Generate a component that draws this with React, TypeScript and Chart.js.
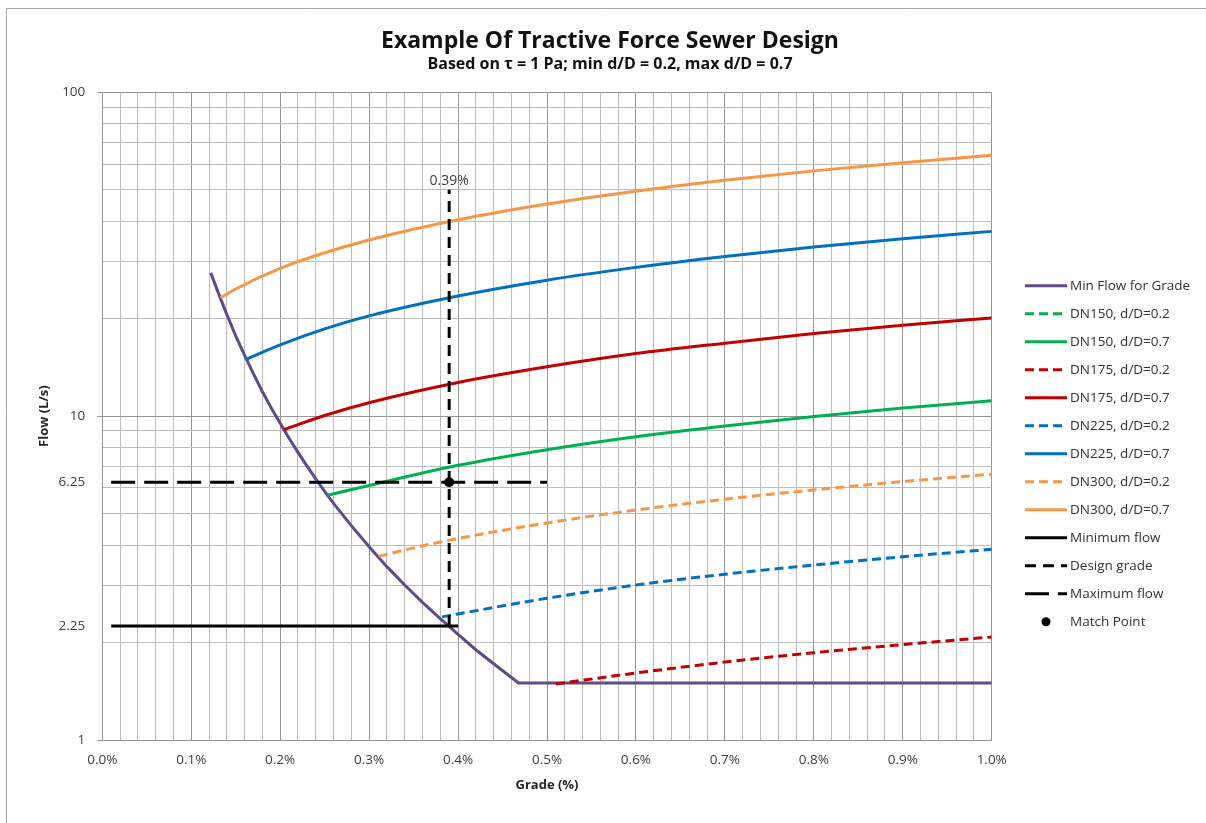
import React, { useEffect, useRef } from 'react';
import { Chart, registerables } from 'chart.js';

Chart.register(...registerables);

// ---------- text ----------
const CHART_TITLE = 'Example Of Tractive Force Sewer Design';
const CHART_SUBTITLE = 'Based on τ = 1 Pa; min d/D = 0.2, max d/D = 0.7';
const X_AXIS_TITLE = 'Grade (%)';
const Y_AXIS_TITLE = 'Flow (L/s)';

// ---------- axes ----------
const X_TICK_LABELS = ['0.0%', '0.1%', '0.2%', '0.3%', '0.4%', '0.5%', '0.6%', '0.7%', '0.8%', '0.9%', '1.0%'];
const X_MIN = 0;
const X_MAX = 1.0;
const X_MINOR_PER_MAJOR = 5; // gridline every 0.02 %
const Y_GRID_VALUES = [1, 2, 3, 4, 5, 6, 7, 8, 9, 10, 20, 30, 40, 50, 60, 70, 80, 90, 100];
const Y_MAJOR_VALUES = [1, 10, 100];
const Y_LABELED_VALUES = [1, 2.25, 6.25, 10, 100];
const Y_TICK_LABELS = ['1', '2.25', '6.25', '10', '100'];

// ---------- series (grade %, flow L/s) ----------
const MIN_FLOW_GRADE = [0.122, 0.13, 0.14, 0.15, 0.16, 0.17, 0.18, 0.19, 0.2, 0.21, 0.22, 0.23, 0.24, 0.25, 0.26, 0.28, 0.3, 0.32, 0.34, 0.36, 0.38, 0.4, 0.42, 0.44, 0.46, 0.468, 1.0];
const MIN_FLOW_Q = [27.7, 24.2, 20.6, 17.7, 15.4, 13.5, 11.9, 10.6, 9.5, 8.55, 7.73, 7.02, 6.4, 5.86, 5.38, 4.59, 3.95, 3.43, 3.01, 2.66, 2.37, 2.12, 1.9, 1.72, 1.56, 1.5, 1.5];

const DN150_02_GRADE: number[] = [];
const DN150_02_Q: number[] = [];

const DN150_07_GRADE = [0.253, 0.3, 0.4, 0.5, 0.6, 0.7, 0.8, 0.9, 1.0];
const DN150_07_Q = [5.7, 6.11, 7.05, 7.88, 8.64, 9.33, 9.97, 10.6, 11.15];

const DN175_02_GRADE = [0.51, 0.6, 0.7, 0.8, 0.9, 1.0];
const DN175_02_Q = [1.49, 1.61, 1.74, 1.86, 1.97, 2.08];

const DN175_07_GRADE = [0.204, 0.25, 0.3, 0.4, 0.5, 0.6, 0.7, 0.8, 0.9, 1.0];
const DN175_07_Q = [9.08, 10.05, 11.0, 12.7, 14.2, 15.6, 16.8, 18.0, 19.1, 20.1];

const DN225_02_GRADE = [0.382, 0.4, 0.5, 0.6, 0.7, 0.8, 0.9, 1.0];
const DN225_02_Q = [2.4, 2.45, 2.74, 3.01, 3.25, 3.47, 3.68, 3.88];

const DN225_07_GRADE = [0.162, 0.2, 0.25, 0.3, 0.4, 0.5, 0.6, 0.7, 0.8, 0.9, 1.0];
const DN225_07_Q = [15.0, 16.6, 18.6, 20.4, 23.5, 26.3, 28.8, 31.1, 33.3, 35.3, 37.2];

const DN300_02_GRADE = [0.311, 0.35, 0.4, 0.5, 0.6, 0.7, 0.8, 0.9, 1.0];
const DN300_02_Q = [3.69, 3.92, 4.19, 4.68, 5.13, 5.54, 5.92, 6.28, 6.62];

const DN300_07_GRADE = [0.133, 0.15, 0.2, 0.25, 0.3, 0.4, 0.5, 0.6, 0.7, 0.8, 0.9, 1.0];
const DN300_07_Q = [23.2, 24.7, 28.6, 31.95, 35.0, 40.4, 45.2, 49.5, 53.5, 57.2, 60.6, 63.9];

const MINIMUM_FLOW_GRADE = [0.01, 0.4];
const MINIMUM_FLOW_Q = [2.25, 2.25];

const DESIGN_GRADE_GRADE = [0.39, 0.39];
const DESIGN_GRADE_Q = [2.25, 50];
const DESIGN_GRADE_LABEL = '0.39%';

const MAXIMUM_FLOW_GRADE = [0.01, 0.5];
const MAXIMUM_FLOW_Q = [6.25, 6.25];

const MATCH_POINT_GRADE = [0.39];
const MATCH_POINT_Q = [6.25];

// ---------- styling ----------
const FONT = "'Open Sans', 'Noto Sans', sans-serif";
const C_PURPLE = '#5F4B8B';
const C_GREEN = '#00B050';
const C_RED = '#C00000';
const C_BLUE = '#0070C0';
const C_ORANGE = '#F79646';
const C_BLACK = '#000000';
const GRID_MINOR = '#bdbdbd';
const GRID_MAJOR = '#959595';
const SHORT_DASH = [9, 5];
const DESIGN_DASH = [11, 7];
const LONG_DASH = [24, 9];
const LW = 3;

const pts = (xs: number[], ys: number[]) => xs.map((x, i) => ({ x, y: ys[i] }));

const overlayPlugin = {
  id: 'overlay',
  beforeDraw(chart: any) {
    const ctx = chart.ctx as CanvasRenderingContext2D;
    ctx.save();
    ctx.strokeStyle = '#a6a6a6';
    ctx.lineWidth = 1;
    ctx.beginPath();
    ctx.moveTo(6.5, 823);
    ctx.lineTo(6.5, 8.5);
    ctx.lineTo(1206, 8.5);
    ctx.stroke();
    ctx.restore();
  },
  afterDraw(chart: any) {
    const ctx = chart.ctx as CanvasRenderingContext2D;
    const legendX = 1025;
    const sampleW = 42;
    const textX = 1070;
    const y0 = 285.7;
    const dy = 28;
    ctx.save();
    ctx.textBaseline = 'middle';
    ctx.textAlign = 'left';
    chart.data.datasets.forEach((ds: any, i: number) => {
      const y = y0 + i * dy;
      if (ds.showLine === false) {
        ctx.beginPath();
        ctx.fillStyle = ds.backgroundColor;
        ctx.arc(legendX + sampleW / 2, y, 4.5, 0, Math.PI * 2);
        ctx.fill();
      } else {
        ctx.beginPath();
        ctx.setLineDash(ds.borderDash || []);
        ctx.strokeStyle = ds.borderColor;
        ctx.lineWidth = ds.borderWidth;
        ctx.moveTo(legendX, y);
        ctx.lineTo(legendX + sampleW, y);
        ctx.stroke();
        ctx.setLineDash([]);
      }
      ctx.font = `13.5px ${FONT}`;
      ctx.fillStyle = '#333333';
      ctx.fillText(ds.label, textX, y);
    });
    const xs = chart.scales.x;
    const ys = chart.scales.y;
    const px = xs.getPixelForValue(DESIGN_GRADE_GRADE[1]);
    const py = ys.getPixelForValue(DESIGN_GRADE_Q[1]);
    ctx.font = `14px ${FONT}`;
    ctx.textAlign = 'center';
    ctx.fillStyle = '#404040';
    ctx.fillText(DESIGN_GRADE_LABEL, px, py - 8.5);
    ctx.restore();
  },
};

export default function App() {
  const canvasRef = useRef<HTMLCanvasElement | null>(null);

  useEffect(() => {
    if (!canvasRef.current) return;
    const curve = (label: string, color: string, xs: number[], ys: number[], dash: number[] = []) => ({
      label,
      data: pts(xs, ys),
      borderColor: color,
      backgroundColor: color,
      borderWidth: LW,
      borderDash: dash,
      pointRadius: 0,
      cubicInterpolationMode: 'monotone',
      fill: false,
      xAxisID: 'x',
      yAxisID: 'y',
    });
    const datasets: any[] = [
      { ...curve('Min Flow for Grade', C_PURPLE, MIN_FLOW_GRADE, MIN_FLOW_Q), cubicInterpolationMode: 'default', tension: 0 },
      curve('DN150, d/D=0.2', C_GREEN, DN150_02_GRADE, DN150_02_Q, SHORT_DASH),
      curve('DN150, d/D=0.7', C_GREEN, DN150_07_GRADE, DN150_07_Q),
      curve('DN175, d/D=0.2', C_RED, DN175_02_GRADE, DN175_02_Q, SHORT_DASH),
      curve('DN175, d/D=0.7', C_RED, DN175_07_GRADE, DN175_07_Q),
      curve('DN225, d/D=0.2', C_BLUE, DN225_02_GRADE, DN225_02_Q, SHORT_DASH),
      curve('DN225, d/D=0.7', C_BLUE, DN225_07_GRADE, DN225_07_Q),
      curve('DN300, d/D=0.2', C_ORANGE, DN300_02_GRADE, DN300_02_Q, SHORT_DASH),
      curve('DN300, d/D=0.7', C_ORANGE, DN300_07_GRADE, DN300_07_Q),
      { ...curve('Minimum flow', C_BLACK, MINIMUM_FLOW_GRADE, MINIMUM_FLOW_Q), cubicInterpolationMode: 'default', tension: 0 },
      { ...curve('Design grade', C_BLACK, DESIGN_GRADE_GRADE, DESIGN_GRADE_Q, DESIGN_DASH), cubicInterpolationMode: 'default', tension: 0 },
      { ...curve('Maximum flow', C_BLACK, MAXIMUM_FLOW_GRADE, MAXIMUM_FLOW_Q, LONG_DASH), cubicInterpolationMode: 'default', tension: 0 },
      {
        label: 'Match Point',
        data: pts(MATCH_POINT_GRADE, MATCH_POINT_Q),
        showLine: false,
        borderColor: C_BLACK,
        backgroundColor: C_BLACK,
        pointRadius: 5,
        pointBorderWidth: 0,
        xAxisID: 'x',
        yAxisID: 'y',
      },
    ];
    // Excel draws later series on top
    datasets.forEach((d, i) => { d.order = -i; });

    const xGrid: number[] = [];
    const nMinor = (X_TICK_LABELS.length - 1) * X_MINOR_PER_MAJOR;
    for (let i = 0; i <= nMinor; i++) xGrid.push(X_MIN + ((X_MAX - X_MIN) * i) / nMinor);
    const yTicks = Array.from(new Set([...Y_GRID_VALUES, ...Y_LABELED_VALUES])).sort((a, b) => a - b);

    const chart = new Chart(canvasRef.current, {
      type: 'line',
      data: { datasets },
      plugins: [overlayPlugin],
      options: {
        responsive: false,
        animation: false,
        events: [],
        layout: { padding: { left: 14, right: 0, top: 0, bottom: 0 } },
        plugins: {
          legend: { display: false },
          tooltip: { enabled: false },
          title: {
            display: true,
            text: CHART_TITLE,
            color: '#111111',
            font: { family: FONT, size: 23, weight: 'bold' },
            padding: { top: 27.7, bottom: 0 },
          },
          subtitle: {
            display: true,
            text: CHART_SUBTITLE,
            color: '#111111',
            font: { family: FONT, size: 16, weight: 'bold' },
            padding: { top: 0, bottom: 17.8 },
          },
        },
        scales: {
          x: {
            type: 'linear',
            position: 'bottom',
            min: X_MIN,
            max: X_MAX,
            afterBuildTicks: (s: any) => { s.ticks = xGrid.map((v) => ({ value: v })); },
            afterFit: (s: any) => { s.height = 83; },
            ticks: {
              autoSkip: false,
              maxRotation: 0,
              minRotation: 0,
              padding: 12,
              color: '#404040',
              font: { family: FONT, size: 13.5 },
              callback: (_v: any, i: number) => (i % X_MINOR_PER_MAJOR === 0 ? X_TICK_LABELS[i / X_MINOR_PER_MAJOR] : ''),
            },
            grid: {
              drawTicks: false,
              lineWidth: 1,
              color: (c: any) => (c.index % X_MINOR_PER_MAJOR === 0 ? GRID_MAJOR : GRID_MINOR),
            },
            border: { color: GRID_MAJOR, width: 1 },
            title: {
              display: true,
              text: X_AXIS_TITLE,
              color: '#262626',
              font: { family: FONT, size: 13, weight: 'bold' },
              padding: { top: 0, bottom: 30.2 },
            },
          },
          y: {
            type: 'logarithmic',
            position: 'left',
            min: 1,
            max: 100,
            afterBuildTicks: (s: any) => { s.ticks = yTicks.map((v) => ({ value: v })); },
            afterFit: (s: any) => { s.width = 88.3; },
            ticks: {
              autoSkip: false,
              padding: 12,
              color: '#404040',
              font: { family: FONT, size: 13.5 },
              callback: (v: any) => {
                const i = Y_LABELED_VALUES.indexOf(Number(v));
                return i >= 0 ? Y_TICK_LABELS[i] : '';
              },
            },
            grid: {
              tickLength: 5,
              lineWidth: 1,
              color: (c: any) => {
                const v = c.tick ? c.tick.value : 0;
                if (Y_MAJOR_VALUES.includes(v)) return GRID_MAJOR;
                if (Y_LABELED_VALUES.includes(v)) return 'rgba(0,0,0,0)';
                return GRID_MINOR;
              },
              tickColor: (c: any) => {
                const v = c.tick ? c.tick.value : 0;
                return Y_MAJOR_VALUES.includes(v) ? GRID_MAJOR : 'rgba(0,0,0,0)';
              },
            },
            border: { color: GRID_MAJOR, width: 1 },
            title: {
              display: true,
              text: Y_AXIS_TITLE,
              color: '#262626',
              font: { family: FONT, size: 13, weight: 'bold' },
              padding: { top: 22.2, bottom: 0 },
            },
          },
          pad: {
            type: 'linear',
            position: 'right',
            display: true,
            grid: { display: false, drawTicks: false },
            border: { display: false },
            ticks: { display: false },
            afterFit: (s: any) => { s.width = 214.3; },
          },
        },
      } as any,
    });
    return () => chart.destroy();
  }, []);

  return (
    <div style={{ position: 'fixed', left: 0, top: 0, width: 1206, height: 823, background: '#ffffff' }}>
      <canvas ref={canvasRef} width={1206} height={823} style={{ display: 'block' }} />
    </div>
  );
}
